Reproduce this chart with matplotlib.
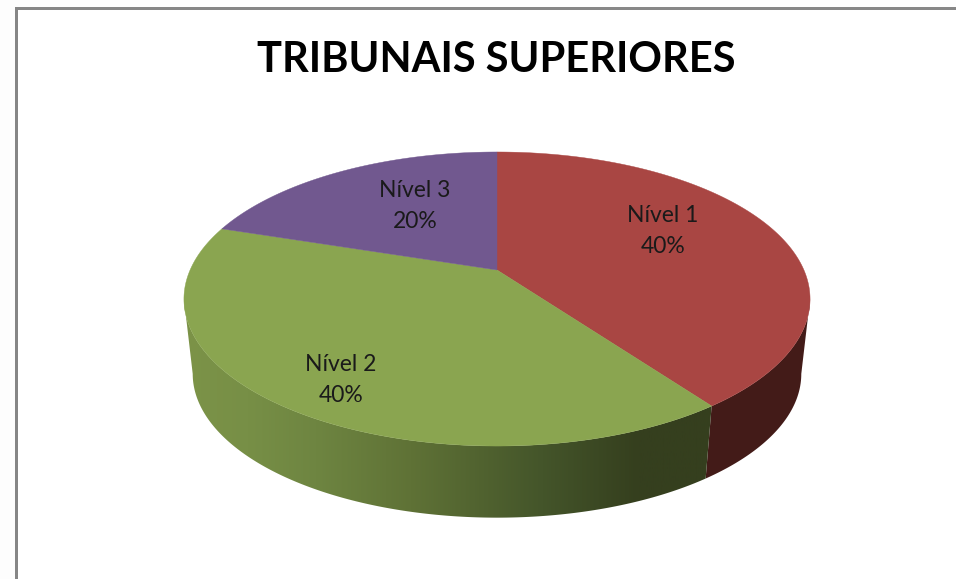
import numpy as np
import matplotlib
matplotlib.use('Agg')
import matplotlib.pyplot as plt
from matplotlib.colors import LinearSegmentedColormap
from matplotlib.patches import Polygon, Rectangle

title = 'TRIBUNAIS SUPERIORES'
labels = ['Nível 1', 'Nível 2', 'Nível 3']
values = [40, 40, 20]
top_colors = ['#A94643', '#8AA550', '#71588F']

# posicao dos rotulos em pixels da imagem
label_pos = [(663, 231), (341, 380), (415, 206)]

# geometria da pizza em perspectiva (pixels da imagem)
cx, cy = 497, 270
ax_x, ax_y = 306.9, 141.3
k = 0.1973
depth_sx, depth_sy = 0.972, 0.978
depth_cy = 345.5
# angulo em que a borda da pizza fica mais larga (tangente da silhueta)
tangent = np.degrees(np.arcsin(k))


def project(theta, bottom=False):
    """Angulo em graus, a partir do topo no sentido horario -> pixels"""
    t = np.radians(theta)
    x, y = np.sin(t), -np.cos(t)
    d = 1 - k * y
    if bottom:
        return cx + depth_sx * ax_x * x / d, depth_cy + depth_sy * ax_y * y / d
    return cx + ax_x * x / d, cy + ax_y * y / d


def wall(start, end):
    th = np.linspace(start, end, 200)
    xt, yt = project(th)
    xb, yb = project(th[::-1], bottom=True)
    return np.column_stack([np.r_[xt, xb], np.r_[yt, yb]])


fig = plt.figure(figsize=(9.56, 5.79), dpi=100, facecolor='#FDFDFD')
ax = fig.add_axes([0, 0, 1, 1])
ax.set_xlim(0, 956)
ax.set_ylim(579, 0)
ax.axis('off')

# moldura do grafico
ax.add_patch(Rectangle((16.5, 7.5), 1100, 700, facecolor='white', edgecolor='#868686', linewidth=2.16, zorder=1))

ax.text(496.5, 60, title, fontsize=30, fontweight='bold', family='Lato', color='black',
        ha='center', va='center', zorder=6)

# angulos das fatias a partir dos valores
bounds = np.cumsum([0] + values) / sum(values) * 360

# parede vermelha (parte visivel)
ax.add_patch(Polygon(wall(90 + tangent, bounds[1]), closed=True, facecolor='#431B18', edgecolor='none', zorder=2))

# parede verde com gradiente
green_cmap = LinearSegmentedColormap.from_list('parede', [
    (0.0, '#7C9348'), (0.12, '#778F46'), (0.25, '#6E8541'), (0.43, '#5F7236'),
    (0.68, '#44552A'), (0.86, '#353F1E'), (1.0, '#353F1E')])
green_poly = Polygon(wall(bounds[1], 270 - tangent), closed=True, facecolor='none', edgecolor='none', zorder=2)
ax.add_patch(green_poly)
grad = np.linspace(0, 1, 256).reshape(1, -1)
im = ax.imshow(grad, cmap=green_cmap, extent=(184, 712, 579, 0), aspect='auto', zorder=2)
im.set_clip_path(green_poly)
ax.set_xlim(0, 956)
ax.set_ylim(579, 0)

# topo da pizza
for i in range(len(values)):
    th = np.linspace(bounds[i], bounds[i + 1], 200)
    xs, ys = project(th)
    pts = np.column_stack([np.r_[cx, xs], np.r_[cy, ys]])
    ax.add_patch(Polygon(pts, closed=True, facecolor=top_colors[i], edgecolor=top_colors[i], linewidth=0.3, zorder=3))

for lab, val, (lx, ly) in zip(labels, values, label_pos):
    ax.text(lx, ly, f'{lab}\n{val}%', fontsize=16.5, family='Lato', color='#1A1A1A',
            ha='center', va='center', linespacing=1.6, zorder=5)

fig.savefig('out.png', dpi=100, facecolor=fig.get_facecolor())
